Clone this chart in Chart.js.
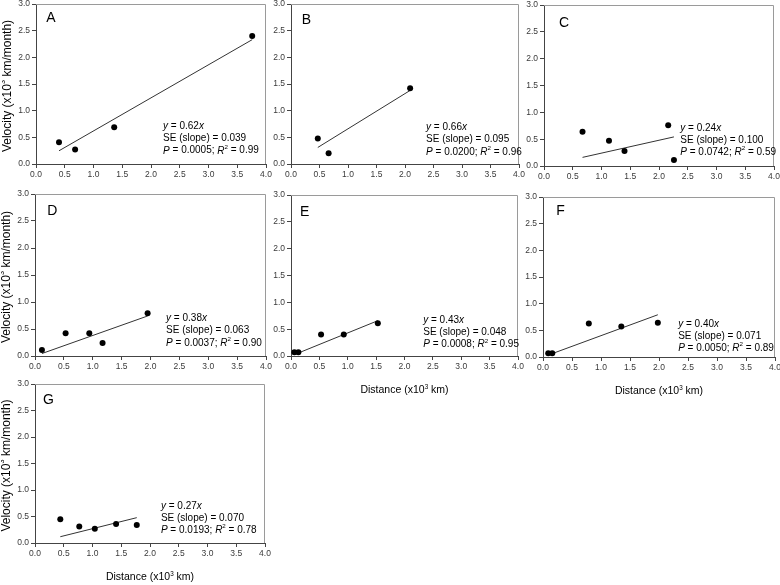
<!DOCTYPE html>
<html>
<head>
<meta charset="utf-8">
<script src="https://cdn.jsdelivr.net/npm/chart.js@4.4.1/dist/chart.umd.min.js"></script>
<style>
  html, body { margin: 0; padding: 0; background: #fff; }
  #wrap { position: relative; width: 780px; height: 585px; overflow: hidden; font-family: "Liberation Sans", Arial, sans-serif; }
  #wrap canvas { position: absolute; }
  .axis-title { position: absolute; font-size: 10.5px; color: #000; white-space: nowrap; transform: translate(-50%, -50%); }
  .axis-title sup { font-size: 0.6em; vertical-align: 0.7em; line-height: 0; }
</style>
</head>
<body>
<div id="wrap"></div>
<script>
// Panel data (distance x10^3 km, velocity x10^3 km/month)
const panelNames = ['A', 'B', 'C', 'D', 'E', 'F', 'G'];

const distA = [0.40, 0.68, 1.36, 3.76];
const velA  = [0.41, 0.27, 0.69, 2.40];
const distB = [0.47, 0.66, 2.09];
const velB  = [0.48, 0.20, 1.42];
const distC = [0.67, 1.13, 1.40, 2.16, 2.26];
const velC  = [0.64, 0.47, 0.28, 0.76, 0.11];
const distD = [0.12, 0.53, 0.94, 1.17, 1.95];
const velD  = [0.11, 0.42, 0.42, 0.24, 0.79];
const distE = [0.06, 0.13, 0.53, 0.93, 1.53];
const velE  = [0.07, 0.07, 0.40, 0.40, 0.61];
const distF = [0.09, 0.16, 0.79, 1.35, 1.98];
const velF  = [0.07, 0.07, 0.63, 0.57, 0.64];
const distG = [0.44, 0.77, 1.04, 1.41, 1.77];
const velG  = [0.45, 0.31, 0.27, 0.36, 0.34];

const distances = [distA, distB, distC, distD, distE, distF, distG];
const velocities = [velA, velB, velC, velD, velE, velF, velG];

// Regression results printed in each panel
const slopes = [0.62, 0.66, 0.24, 0.38, 0.43, 0.40, 0.27];
const slopeSE = [0.039, 0.095, 0.100, 0.063, 0.048, 0.071, 0.070];
const pValues = ['0.0005', '0.0200', '0.0742', '0.0037', '0.0008', '0.0050', '0.0193'];
const rSquared = [0.99, 0.96, 0.59, 0.90, 0.95, 0.89, 0.78];

// Tick values
const xTicks = [0, 0.5, 1, 1.5, 2, 2.5, 3, 3.5, 4];
const yTicks = [0, 0.5, 1, 1.5, 2, 2.5, 3];

// Layout: plot area rectangles in page pixels [left, top, width, height]
const plotRects = [
  [36, 4, 230, 160],
  [291, 4, 228, 160],
  [544, 5, 230, 161],
  [35, 194, 231, 162],
  [291, 195, 227, 161],
  [543, 197, 232, 160],
  [35, 384, 230, 159]
];
// Panel letter and stats text anchors, in data units
const letterPos = [[0.18, 2.74], [0.19, 2.70], [0.26, 2.67], [0.21, 2.69], [0.16, 2.68], [0.23, 2.74], [0.14, 2.70]];
const notePos = [[2.21, 0.71], [2.37, 0.69], [2.37, 0.71], [2.27, 0.70], [2.33, 0.67], [2.33, 0.62], [2.19, 0.70]];
const showYTitle = [true, false, false, true, false, false, true];
const showXTitle = [false, false, false, false, true, true, true];

const FONT = '"Liberation Sans", Arial, sans-serif';
const AXIS_W = 34;
const AXIS_H = 24;
const PAD_TOP = 8;
const PAD_RIGHT = 10;

// Width of text made of parts
function richWidth(ctx, parts, size) {
  return parts.reduce((w, p) => {
    ctx.font = `${p.it ? 'italic ' : ''}${p.sup ? size * 0.62 : size}px ${FONT}`;
    return w + ctx.measureText(p.t).width;
  }, 0);
}

// Draw text made of plain, italic and superscript parts
function drawRich(ctx, parts, x, y, size) {
  parts.forEach(p => {
    const fs = p.sup ? size * 0.62 : size;
    ctx.font = `${p.it ? 'italic ' : ''}${fs}px ${FONT}`;
    ctx.fillText(p.t, x, p.sup ? y - size * 0.38 : y);
    x += ctx.measureText(p.t).width;
  });
}

// Frame, panel letter, regression statistics and y title
const panelDecor = {
  id: 'panelDecor',
  afterDraw(chart, args, opts) {
    const { ctx, chartArea: a, scales: { x, y } } = chart;
    const i = opts.index;
    ctx.save();

    ctx.strokeStyle = '#9a9a9a';
    ctx.lineWidth = 1;
    ctx.beginPath();
    const top = Math.round(a.top) + 0.5;
    const right = Math.round(a.right) - 0.5;
    ctx.moveTo(a.left, top);
    ctx.lineTo(right, top);
    ctx.lineTo(right, a.bottom);
    ctx.stroke();

    ctx.fillStyle = '#000';
    ctx.textBaseline = 'middle';
    ctx.textAlign = 'left';
    ctx.font = `14px ${FONT}`;
    ctx.fillText(panelNames[i], x.getPixelForValue(letterPos[i][0]), y.getPixelForValue(letterPos[i][1]));

    const nx = x.getPixelForValue(notePos[i][0]);
    const ny = y.getPixelForValue(notePos[i][1]);
    const lines = [
      [{ t: 'y', it: true }, { t: ' = ' + slopes[i].toFixed(2) }, { t: 'x', it: true }],
      [{ t: 'SE (slope) = ' + slopeSE[i].toFixed(3) }],
      [{ t: 'P', it: true }, { t: ' = ' + pValues[i] + '; ' }, { t: 'R', it: true }, { t: '2', sup: true }, { t: ' = ' + rSquared[i].toFixed(2) }]
    ];
    lines.forEach((parts, k) => drawRich(ctx, parts, nx, ny + k * 12.3, 10));

    if (showYTitle[i]) {
      const title = [{ t: 'Velocity (x10' }, { t: '3', sup: true }, { t: ' km/month)' }];
      const w = richWidth(ctx, title, 12);
      ctx.translate(a.left - 28, (a.top + a.bottom) / 2 + 2);
      ctx.rotate(-Math.PI / 2);
      drawRich(ctx, title, -w / 2, 0, 12);
    }
    ctx.restore();
  }
};

function scaleOptions(ticks, min, max, isX) {
  return {
    type: 'linear',
    min,
    max,
    afterBuildTicks: s => { s.ticks = ticks.map(v => ({ value: v })); },
    afterFit: s => { if (isX) s.height = AXIS_H; else s.width = AXIS_W; },
    ticks: {
      callback: v => Number(v).toFixed(1),
      font: { family: FONT, size: 8.5 },
      color: '#3a3a3a',
      padding: 2,
      maxRotation: 0,
      autoSkip: false
    },
    grid: { drawOnChartArea: false, drawTicks: true, tickLength: 4, color: '#444', lineWidth: 1 },
    border: { display: true, color: '#444', width: 1 }
  };
}

function addTitle(text, cx, cy) {
  const div = document.createElement('div');
  div.className = 'axis-title';
  div.style.left = cx + 'px';
  div.style.top = cy + 'px';
  div.innerHTML = text;
  document.getElementById('wrap').appendChild(div);
}

function buildPanel(i) {
  const [L, T, W, H] = plotRects[i];
  const canvas = document.createElement('canvas');
  canvas.width = W + AXIS_W + PAD_RIGHT;
  canvas.height = H + PAD_TOP + AXIS_H;
  canvas.style.left = (L - AXIS_W) + 'px';
  canvas.style.top = (T - PAD_TOP) + 'px';
  document.getElementById('wrap').appendChild(canvas);

  const dist = distances[i];
  const vel = velocities[i];
  const points = dist.map((d, k) => ({ x: d, y: vel[k] }));
  const xMin = Math.min(...dist);
  const xMax = Math.max(...dist);
  const fit = [xMin, xMax].map(d => ({ x: d, y: slopes[i] * d }));

  new Chart(canvas, {
    type: 'scatter',
    data: {
      datasets: [{
        data: fit,
        showLine: true,
        pointRadius: 0,
        borderColor: '#333',
        borderWidth: 1,
        order: 2
      }, {
        data: points,
        pointRadius: 3,
        pointBackgroundColor: '#000',
        pointBorderWidth: 0,
        order: 1
      }]
    },
    options: {
      responsive: false,
      animation: false,
      events: [],
      layout: { padding: { top: PAD_TOP, right: PAD_RIGHT, left: 0, bottom: 0 } },
      plugins: {
        legend: { display: false },
        tooltip: { enabled: false },
        panelDecor: { index: i }
      },
      scales: {
        x: scaleOptions(xTicks, 0, 4, true),
        y: scaleOptions(yTicks, 0, 3, false)
      }
    },
    plugins: [panelDecor]
  });

  if (showXTitle[i]) addTitle('Distance (x10<sup>3</sup> km)', L + W / 2, T + H + 33);
}

panelNames.forEach((name, i) => buildPanel(i));
</script>
</body>
</html>
